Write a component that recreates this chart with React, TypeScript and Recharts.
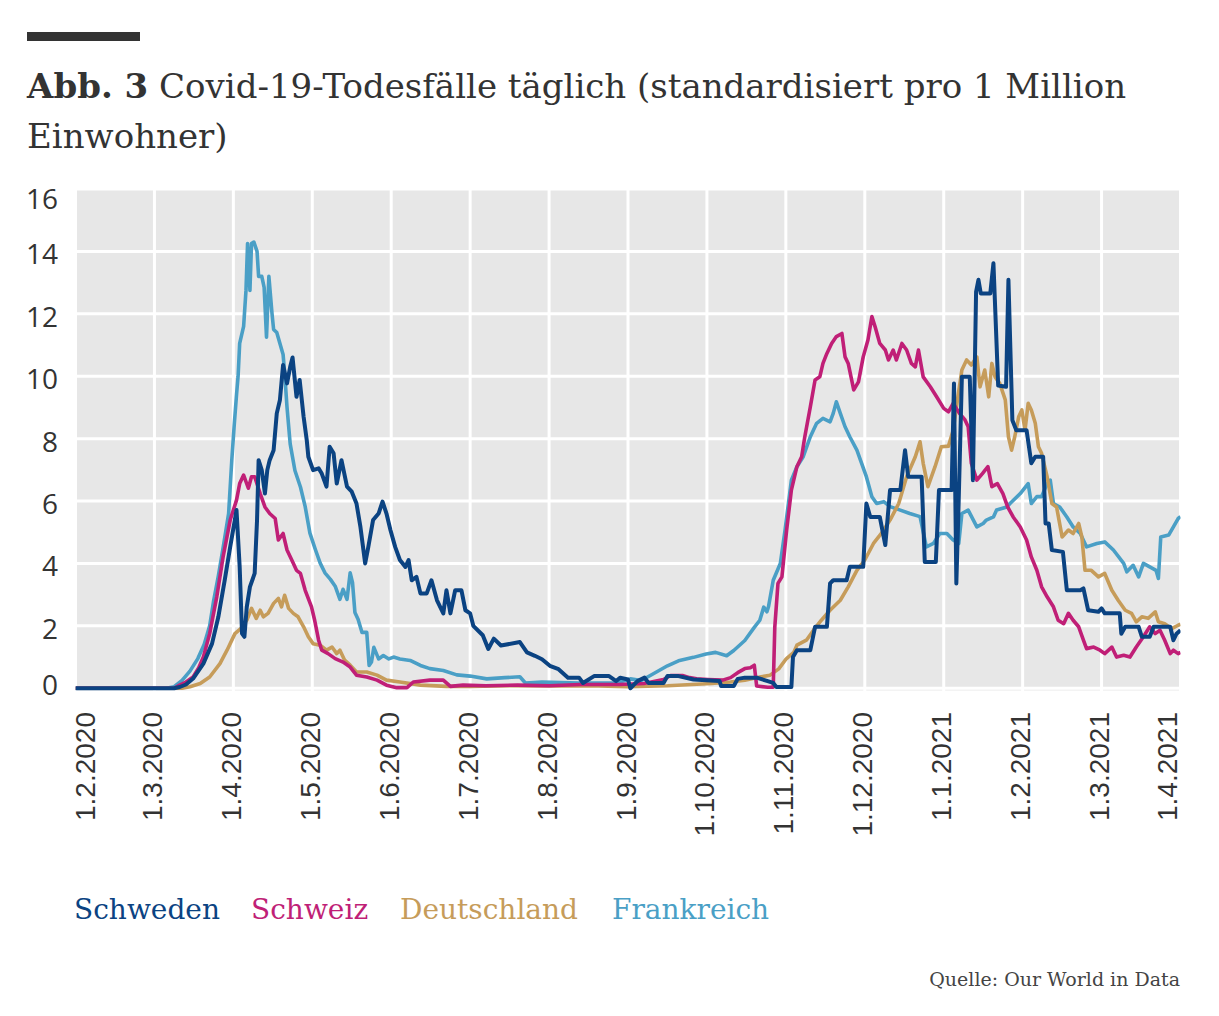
import React from "react";
import { LineChart, Line, XAxis, YAxis, CartesianGrid } from "recharts";

// x values: months since 1.2.2020 (0 = 1.2.2020, 14 = 1.4.2021)
const monthLabels = [
  "1.2.2020", "1.3.2020", "1.4.2020", "1.5.2020", "1.6.2020", "1.7.2020", "1.8.2020",
  "1.9.2020", "1.10.2020", "1.11.2020", "1.12.2020", "1.1.2021", "1.2.2021", "1.3.2021", "1.4.2021",
];
const monthTicks = monthLabels.map((_, i) => i);
const yTicks = [0, 2, 4, 6, 8, 10, 12, 14, 16];

const frankreich: [number, number][] = [
  [0, 0], [1.15, 0], [1.25, 0.05], [1.35, 0.25], [1.45, 0.55], [1.55, 0.95], [1.63, 1.4], [1.7, 2.0],
  [1.75, 2.8], [1.81, 3.6], [1.87, 4.5], [1.94, 5.6], [1.98, 7.3], [2.01, 8.4], [2.04, 9.4], [2.06, 10.0],
  [2.08, 11.05], [2.13, 11.6], [2.16, 12.75], [2.18, 14.25], [2.21, 12.75], [2.23, 14.25], [2.26, 14.3],
  [2.3, 14.0], [2.32, 13.2], [2.36, 13.2], [2.39, 12.85], [2.42, 11.25], [2.45, 13.2], [2.49, 12.0],
  [2.51, 11.5], [2.55, 11.4], [2.59, 11.05], [2.63, 10.7], [2.65, 10.1], [2.68, 9.0], [2.72, 7.83],
  [2.78, 6.98], [2.85, 6.45], [2.91, 5.82], [2.97, 4.97], [3.04, 4.44], [3.1, 4.01], [3.16, 3.7],
  [3.23, 3.49], [3.29, 3.27], [3.35, 2.85], [3.39, 3.17], [3.44, 2.85], [3.48, 3.7], [3.51, 3.38],
  [3.54, 2.43], [3.58, 2.21], [3.63, 1.79], [3.69, 1.79], [3.72, 0.73], [3.75, 0.84], [3.78, 1.31],
  [3.84, 0.94], [3.9, 1.05], [3.97, 0.94], [4.03, 1.0], [4.11, 0.94], [4.24, 0.89], [4.37, 0.73],
  [4.49, 0.63], [4.66, 0.57], [4.83, 0.43], [5.0, 0.39], [5.21, 0.3], [5.44, 0.34], [5.63, 0.37],
  [5.7, 0.17], [5.91, 0.2], [6.38, 0.17], [6.85, 0.17], [7.03, 0.3], [7.17, 0.25], [7.31, 0.45],
  [7.5, 0.72], [7.64, 0.88], [7.83, 0.99], [7.99, 1.1], [8.11, 1.15], [8.25, 1.04], [8.34, 1.21],
  [8.48, 1.53], [8.6, 1.95], [8.67, 2.18], [8.72, 2.6], [8.76, 2.45], [8.78, 2.61], [8.84, 3.46],
  [8.93, 4.0], [8.99, 5.07], [9.07, 6.67], [9.14, 7.1], [9.22, 7.42], [9.31, 8.06], [9.39, 8.49],
  [9.47, 8.65], [9.56, 8.54], [9.6, 8.81], [9.64, 9.18], [9.69, 8.81], [9.75, 8.38], [9.81, 8.06],
  [9.9, 7.63], [9.96, 7.21], [10.02, 6.78], [10.09, 6.14], [10.15, 5.92], [10.24, 5.98], [10.32, 5.82],
  [10.45, 5.71], [10.57, 5.6], [10.7, 5.5], [10.78, 4.53], [10.87, 4.64], [10.95, 4.96], [11.04, 4.96],
  [11.12, 4.75], [11.19, 4.64], [11.23, 5.6], [11.31, 5.71], [11.42, 5.17], [11.5, 5.28], [11.54, 5.39],
  [11.63, 5.49], [11.67, 5.71], [11.8, 5.81], [11.84, 5.92], [11.97, 6.24], [12.07, 6.56], [12.11, 5.92],
  [12.18, 6.14], [12.24, 6.14], [12.31, 6.56], [12.35, 6.67], [12.39, 5.92], [12.47, 5.81], [12.56, 5.49],
  [12.64, 5.17], [12.73, 4.96], [12.81, 4.53], [12.94, 4.64], [13.04, 4.69], [13.15, 4.43], [13.28, 4.0],
  [13.32, 3.73], [13.4, 3.94], [13.47, 3.57], [13.53, 4.0], [13.61, 3.89], [13.69, 3.78], [13.72, 3.52],
  [13.75, 4.85], [13.85, 4.91], [13.91, 5.17], [13.97, 5.44], [14.0, 5.5],
];

const deutschland: [number, number][] = [
  [0, 0], [1.35, 0], [1.45, 0.05], [1.58, 0.15], [1.7, 0.36], [1.83, 0.79], [1.92, 1.22], [2.02, 1.75],
  [2.09, 1.9], [2.17, 2.18], [2.23, 2.56], [2.29, 2.24], [2.34, 2.5], [2.38, 2.29], [2.44, 2.4],
  [2.51, 2.72], [2.57, 2.88], [2.61, 2.61], [2.65, 2.98], [2.7, 2.56], [2.76, 2.4], [2.82, 2.29],
  [2.89, 1.97], [2.95, 1.65], [3.01, 1.43], [3.1, 1.38], [3.18, 1.22], [3.25, 1.32], [3.31, 1.11],
  [3.35, 1.22], [3.41, 0.9], [3.48, 0.74], [3.56, 0.52], [3.69, 0.52], [3.82, 0.42], [3.94, 0.26],
  [4.11, 0.2], [4.37, 0.1], [4.7, 0.06], [5.0, 0.06], [5.5, 0.08], [6.0, 0.07], [6.5, 0.08], [7.0, 0.05],
  [7.5, 0.08], [8.06, 0.15], [8.3, 0.2], [8.48, 0.26], [8.67, 0.36], [8.8, 0.42], [8.91, 0.62],
  [9.0, 0.93], [9.03, 1.0], [9.1, 1.15], [9.14, 1.38], [9.26, 1.54], [9.35, 1.86], [9.45, 2.18],
  [9.56, 2.5], [9.69, 2.82], [9.79, 3.25], [9.9, 3.78], [10.0, 4.11], [10.11, 4.64], [10.21, 4.96],
  [10.32, 5.39], [10.43, 5.92], [10.53, 6.78], [10.64, 7.42], [10.7, 7.9], [10.74, 7.21], [10.8, 6.46],
  [10.89, 7.1], [10.97, 7.74], [11.06, 7.76], [11.12, 8.27], [11.18, 9.34], [11.23, 10.2], [11.29, 10.52],
  [11.35, 10.36], [11.42, 10.62], [11.46, 9.66], [11.52, 10.2], [11.57, 9.34], [11.61, 10.41],
  [11.65, 9.98], [11.71, 9.77], [11.78, 9.24], [11.82, 8.06], [11.86, 7.63], [11.9, 8.06], [11.95, 8.7],
  [11.99, 8.92], [12.03, 8.27], [12.07, 9.13], [12.11, 8.92], [12.16, 8.49], [12.2, 7.74], [12.24, 7.53],
  [12.31, 6.78], [12.37, 5.92], [12.43, 5.81], [12.5, 4.85], [12.58, 5.07], [12.64, 4.96], [12.71, 5.28],
  [12.75, 4.85], [12.79, 3.78], [12.87, 3.78], [12.96, 3.57], [13.04, 3.68], [13.13, 3.14], [13.21, 2.82],
  [13.3, 2.5], [13.38, 2.4], [13.44, 2.13], [13.51, 2.29], [13.59, 2.24], [13.68, 2.45], [13.72, 2.13],
  [13.8, 2.07], [13.89, 1.91], [13.97, 2.02], [14.0, 2.05],
];

const schweiz: [number, number][] = [
  [0, 0], [1.25, 0], [1.32, 0.1], [1.4, 0.2], [1.49, 0.36], [1.56, 0.65], [1.62, 1.0], [1.7, 1.75],
  [1.79, 2.93], [1.87, 4.21], [1.96, 5.39], [2.04, 6.03], [2.08, 6.56], [2.13, 6.83], [2.19, 6.41],
  [2.23, 6.78], [2.27, 6.78], [2.34, 6.24], [2.4, 5.81], [2.46, 5.6], [2.53, 5.44], [2.57, 4.75],
  [2.63, 4.96], [2.68, 4.43], [2.74, 4.11], [2.8, 3.78], [2.85, 3.68], [2.91, 3.14], [2.99, 2.61],
  [3.03, 2.18], [3.08, 1.54], [3.12, 1.22], [3.2, 1.11], [3.29, 0.95], [3.39, 0.84], [3.48, 0.68],
  [3.56, 0.42], [3.69, 0.36], [3.82, 0.26], [3.94, 0.1], [4.07, 0.02], [4.2, 0.02], [4.28, 0.2],
  [4.49, 0.26], [4.66, 0.26], [4.75, 0.06], [4.91, 0.1], [5.2, 0.08], [5.6, 0.1], [6.0, 0.08],
  [6.4, 0.12], [6.89, 0.12], [7.2, 0.15], [7.45, 0.28], [7.54, 0.41], [7.69, 0.41], [7.78, 0.34],
  [7.87, 0.3], [8.01, 0.28], [8.2, 0.26], [8.3, 0.34], [8.39, 0.5], [8.48, 0.63], [8.55, 0.66],
  [8.6, 0.74], [8.63, 0.07], [8.77, 0.03], [8.84, 0.03], [8.86, 1.97], [8.9, 3.36], [8.95, 3.57],
  [9.01, 5.07], [9.07, 6.35], [9.14, 7.1], [9.2, 7.42], [9.24, 8.06], [9.31, 9.02], [9.37, 9.88],
  [9.43, 9.98], [9.47, 10.41], [9.52, 10.73], [9.58, 11.05], [9.64, 11.27], [9.71, 11.37], [9.75, 10.62],
  [9.79, 10.41], [9.86, 9.56], [9.92, 9.82], [9.98, 10.62], [10.04, 11.16], [10.09, 11.91], [10.13, 11.59],
  [10.19, 11.05], [10.26, 10.84], [10.3, 10.52], [10.36, 10.84], [10.4, 10.52], [10.47, 11.05],
  [10.53, 10.84], [10.59, 10.41], [10.64, 10.3], [10.68, 10.84], [10.74, 9.98], [10.83, 9.66],
  [10.91, 9.34], [11.0, 8.97], [11.06, 8.86], [11.12, 9.13], [11.2, 8.81], [11.27, 8.6], [11.31, 8.38],
  [11.35, 7.21], [11.42, 6.67], [11.49, 6.88], [11.56, 7.1], [11.61, 6.46], [11.68, 6.56], [11.75, 6.24],
  [11.81, 5.81], [11.88, 5.49], [11.97, 5.17], [12.05, 4.75], [12.11, 4.21], [12.18, 3.78], [12.24, 3.25],
  [12.31, 2.93], [12.39, 2.61], [12.45, 2.18], [12.52, 2.07], [12.58, 2.4], [12.64, 2.18], [12.71, 1.97],
  [12.77, 1.54], [12.81, 1.27], [12.9, 1.32], [12.98, 1.22], [13.04, 1.11], [13.13, 1.32], [13.19, 1.0],
  [13.28, 1.06], [13.36, 1.0], [13.44, 1.32], [13.53, 1.65], [13.61, 1.97], [13.68, 1.75], [13.74, 1.86],
  [13.8, 1.54], [13.87, 1.11], [13.91, 1.22], [13.97, 1.11], [14.0, 1.15],
];

const schweden: [number, number][] = [
  [0, 0], [1.25, 0], [1.32, 0.04], [1.4, 0.12], [1.49, 0.31], [1.62, 0.79], [1.73, 1.43], [1.81, 2.29],
  [1.89, 3.46], [1.96, 4.53], [2.04, 5.71], [2.08, 3.89], [2.11, 1.75], [2.14, 1.65], [2.17, 2.61],
  [2.21, 3.25], [2.27, 3.68], [2.3, 5.39], [2.32, 7.31], [2.36, 6.99], [2.4, 6.24], [2.43, 6.99],
  [2.46, 7.31], [2.51, 7.63], [2.55, 8.81], [2.59, 9.24], [2.63, 10.36], [2.68, 9.77], [2.72, 10.3],
  [2.75, 10.6], [2.8, 9.34], [2.84, 9.88], [2.89, 8.7], [2.93, 7.95], [2.95, 7.42], [3.01, 6.99],
  [3.08, 7.05], [3.12, 6.88], [3.18, 6.46], [3.22, 7.74], [3.27, 7.53], [3.31, 6.56], [3.37, 7.31],
  [3.44, 6.46], [3.5, 6.3], [3.56, 5.92], [3.61, 5.17], [3.67, 4.0], [3.71, 4.53], [3.77, 5.39],
  [3.84, 5.6], [3.89, 5.98], [3.94, 5.6], [3.99, 5.07], [4.05, 4.53], [4.11, 4.11], [4.18, 3.89],
  [4.22, 4.11], [4.26, 3.46], [4.32, 3.57], [4.37, 3.04], [4.45, 3.04], [4.51, 3.46], [4.58, 2.82],
  [4.66, 2.4], [4.7, 3.14], [4.75, 2.4], [4.81, 3.14], [4.89, 3.14], [4.94, 2.5], [5.0, 2.4], [5.04, 2.0],
  [5.16, 1.7], [5.23, 1.26], [5.3, 1.59], [5.39, 1.37], [5.63, 1.48], [5.72, 1.15], [5.82, 1.04],
  [5.91, 0.93], [6.01, 0.72], [6.12, 0.61], [6.24, 0.34], [6.38, 0.34], [6.43, 0.17], [6.57, 0.39],
  [6.76, 0.39], [6.85, 0.23], [6.9, 0.34], [7.0, 0.28], [7.03, 0.0], [7.12, 0.23], [7.21, 0.34],
  [7.26, 0.17], [7.45, 0.17], [7.5, 0.39], [7.64, 0.39], [7.83, 0.28], [8.16, 0.23], [8.18, 0.07],
  [8.34, 0.07], [8.39, 0.3], [8.48, 0.34], [8.63, 0.34], [8.77, 0.23], [8.84, 0.17], [8.88, 0.04],
  [9.07, 0.04], [9.09, 1.0], [9.14, 1.22], [9.31, 1.22], [9.37, 1.97], [9.52, 1.97], [9.56, 3.36],
  [9.6, 3.46], [9.77, 3.46], [9.81, 3.89], [9.98, 3.89], [10.02, 5.92], [10.07, 5.49], [10.19, 5.49],
  [10.26, 4.59], [10.32, 6.35], [10.45, 6.35], [10.51, 7.63], [10.55, 6.78], [10.72, 6.78], [10.76, 4.05],
  [10.9, 4.05], [10.94, 6.35], [11.1, 6.35], [11.13, 9.77], [11.16, 3.36], [11.19, 6.03], [11.23, 9.98],
  [11.33, 9.98], [11.37, 6.67], [11.41, 12.7], [11.44, 13.09], [11.47, 12.65], [11.59, 12.65],
  [11.63, 13.62], [11.69, 9.7], [11.79, 9.66], [11.82, 13.09], [11.87, 8.59], [11.92, 8.27], [12.05, 8.27],
  [12.11, 7.21], [12.16, 7.42], [12.26, 7.42], [12.29, 5.28], [12.33, 5.28], [12.37, 4.43], [12.51, 4.37],
  [12.56, 3.14], [12.73, 3.14], [12.77, 3.2], [12.83, 2.5], [12.96, 2.45], [13.0, 2.56], [13.04, 2.4],
  [13.23, 2.4], [13.25, 1.75], [13.3, 1.97], [13.47, 1.97], [13.51, 1.65], [13.61, 1.65], [13.66, 1.97],
  [13.87, 1.97], [13.91, 1.54], [13.95, 1.75], [14.0, 1.86],
];

const series = [
  { name: "Frankreich", color: "#4a9fc6", points: frankreich, legendX: 612 },
  { name: "Deutschland", color: "#c69c5a", points: deutschland, legendX: 400 },
  { name: "Schweiz", color: "#c01f77", points: schweiz, legendX: 251 },
  { name: "Schweden", color: "#0b4382", points: schweden, legendX: 74 },
];

const W = 1219;
const H = 1016;
const serif = "'DejaVu Serif', serif";

const XTick = (props: any) => {
  const { x, y, payload, index } = props;
  const last = monthLabels.length - 1;
  const dx = index === 0 ? 9.5 : index === last ? -13.5 : -2;
  const px = x + dx;
  const py = y + 20;
  return (
    <text
      x={px}
      y={py}
      transform={`rotate(-90, ${px}, ${py})`}
      textAnchor="end"
      dominantBaseline="central"
      fontFamily="'Liberation Sans', Arial, sans-serif"
      fontSize={28}
      fill="#333"
    >
      {monthLabels[payload.value]}
    </text>
  );
};

const YTick = (props: any) => {
  const { x, y, payload } = props;
  const v = payload.value;
  const dy = v === 16 ? 9 : v === 0 ? -4 : 2;
  return (
    <text
      x={x - 17.5}
      y={y + dy}
      textAnchor="end"
      dominantBaseline="central"
      fontFamily="'Open Sans', sans-serif"
      fontSize={28}
      fill="#333"
    >
      {v}
    </text>
  );
};

export default function App() {
  return (
    <div style={{ position: "absolute", left: 0, top: 0, width: W, height: H, background: "#fff" }}>
      <LineChart
        width={W}
        height={H}
        margin={{ top: 189, right: 38.5, bottom: 194, left: 15.5 }}
        style={{ position: "absolute", left: 0, top: 0 }}
      >
        <CartesianGrid fill="#e7e7e7" fillOpacity={1} stroke="#ffffff" strokeWidth={3} />
        <XAxis
          dataKey="t"
          type="number"
          domain={[0, 14]}
          ticks={monthTicks}
          interval={0}
          height={130}
          tickSize={0}
          tickMargin={0}
          tickLine={false}
          axisLine={false}
          tick={<XTick />}
          allowDataOverflow
        />
        <YAxis
          type="number"
          domain={[-0.12, 16]}
          ticks={yTicks}
          interval={0}
          width={60}
          tickSize={0}
          tickMargin={0}
          tickLine={false}
          axisLine={false}
          tick={<YTick />}
          allowDataOverflow
        />
        {series.map((s) => (
          <Line
            key={s.name}
            name={s.name}
            data={s.points.map(([t, v]) => ({ t, v }))}
            dataKey="v"
            type="linear"
            stroke={s.color}
            strokeWidth={s.name === "Schweden" ? 4 : 3.6}
            strokeLinejoin="round"
            dot={false}
            activeDot={false}
            isAnimationActive={false}
          />
        ))}
      </LineChart>
      <svg width={W} height={H} style={{ position: "absolute", left: 0, top: 0, pointerEvents: "none" }}>
        <rect x={27} y={32} width={113} height={9} fill="#333" />
        <text x={27} y={98} fontFamily={serif} fontSize={34} fill="#333">
          <tspan fontWeight="bold">Abb. 3</tspan>
          <tspan> Covid-19-Todesfälle täglich (standardisiert pro 1 Million</tspan>
        </text>
        <text x={27} y={148} fontFamily={serif} fontSize={34} fill="#333">
          Einwohner)
        </text>
        {series.map((s) => (
          <text key={s.name} x={s.legendX} y={919} fontFamily={serif} fontSize={28} fill={s.color}>
            {s.name}
          </text>
        ))}
        <text x={1180} y={986} textAnchor="end" fontFamily={serif} fontSize={19} fill="#444">
          Quelle: Our World in Data
        </text>
      </svg>
    </div>
  );
}
